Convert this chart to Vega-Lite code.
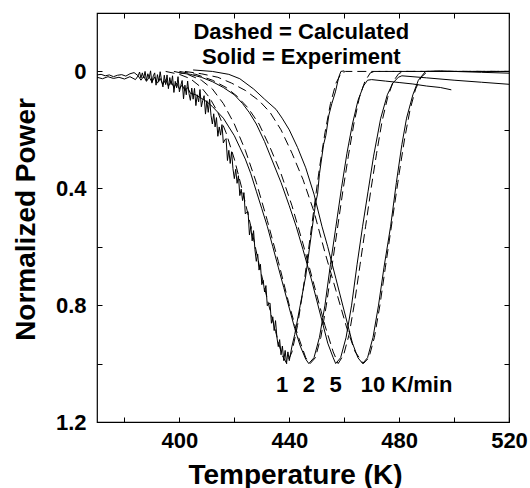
{
"$schema": "https://vega.github.io/schema/vega-lite/v6.json",
"width": 412, "height": 409,
"autosize": "none",
"padding": {"left": 97, "top": 13, "right": 21, "bottom": 66},
"background": "white",
"config": {"view": {"stroke": "black", "strokeWidth": 1.2}, "font": "Liberation Sans"},
"datasets": {
"exp": [
{"s":"1","t":370,"p":0.012},{"s":"1","t":371.5,"p":0.010},{"s":"1","t":373,"p":0.015},{"s":"1","t":374.5,"p":0.012},{"s":"1","t":376,"p":0.018},{"s":"1","t":377.5,"p":0.013},{"s":"1","t":379,"p":0.011},{"s":"1","t":380.5,"p":0.016},{"s":"1","t":382,"p":0.008},{"s":"1","t":383.5,"p":0.004},
{"s":"1","t":385,"p":0.015},{"s":"1","t":385.5,"p":0.002},{"s":"1","t":386,"p":0.023},{"s":"1","t":386.5,"p":0.005},{"s":"1","t":387,"p":0.022},{"s":"1","t":387.5,"p":0.0},{"s":"1","t":388,"p":0.031},{"s":"1","t":388.5,"p":0.008},{"s":"1","t":389,"p":0.022},{"s":"1","t":389.5,"p":-0.002},{"s":"1","t":390,"p":0.04},{"s":"1","t":390.5,"p":0.015},{"s":"1","t":391,"p":0.005},{"s":"1","t":391.5,"p":0.047},{"s":"1","t":392,"p":0.011},{"s":"1","t":392.5,"p":0.034},{"s":"1","t":393,"p":0.001},{"s":"1","t":393.5,"p":0.031},{"s":"1","t":394,"p":0.053},{"s":"1","t":394.5,"p":0.013},{"s":"1","t":395,"p":0.045},{"s":"1","t":395.5,"p":0.012},{"s":"1","t":396,"p":0.059},{"s":"1","t":396.5,"p":0.021},{"s":"1","t":397,"p":0.045},{"s":"1","t":397.5,"p":0.015},{"s":"1","t":398,"p":0.072},{"s":"1","t":398.5,"p":0.034},{"s":"1","t":399,"p":0.056},{"s":"1","t":399.5,"p":0.018},{"s":"1","t":400,"p":0.07},{"s":"1","t":400.5,"p":0.048},{"s":"1","t":401,"p":0.031},{"s":"1","t":401.5,"p":0.094},{"s":"1","t":402,"p":0.047},{"s":"1","t":402.5,"p":0.08},{"s":"1","t":403,"p":0.033},{"s":"1","t":403.5,"p":0.076},{"s":"1","t":404,"p":0.099},{"s":"1","t":404.5,"p":0.057},{"s":"1","t":405,"p":0.095},{"s":"1","t":405.5,"p":0.058},{"s":"1","t":406,"p":0.117},{"s":"1","t":406.5,"p":0.08},{"s":"1","t":407,"p":0.104},{"s":"1","t":407.5,"p":0.062},{"s":"1","t":408,"p":0.121},{"s":"1","t":408.5,"p":0.099},{"s":"1","t":409,"p":0.083},{"s":"1","t":409.5,"p":0.146},{"s":"1","t":410,"p":0.10},{"s":"1","t":410.5,"p":0.14},{"s":"1","t":411,"p":0.095},{"s":"1","t":411.5,"p":0.15},{"s":"1","t":412,"p":0.18},{"s":"1","t":412.5,"p":0.145},{"s":"1","t":413,"p":0.19},{"s":"1","t":413.5,"p":0.158},{"s":"1","t":414,"p":0.222},{"s":"1","t":414.5,"p":0.19},{"s":"1","t":415,"p":0.218},{"s":"1","t":415.5,"p":0.182},{"s":"1","t":416,"p":0.245},{"s":"1","t":416.5,"p":0.235},{"s":"1","t":417,"p":0.23},{"s":"1","t":417.5,"p":0.305},{"s":"1","t":418,"p":0.27},{"s":"1","t":418.5,"p":0.315},{"s":"1","t":419,"p":0.275},{"s":"1","t":419.5,"p":0.333},{"s":"1","t":420,"p":0.367},{"s":"1","t":420.5,"p":0.335},{"s":"1","t":421,"p":0.383},{"s":"1","t":421.5,"p":0.357},{"s":"1","t":422,"p":0.425},{"s":"1","t":422.5,"p":0.403},{"s":"1","t":423,"p":0.442},{"s":"1","t":423.5,"p":0.415},{"s":"1","t":424,"p":0.488},{"s":"1","t":424.5,"p":0.482},{"s":"1","t":425,"p":0.48},{"s":"1","t":425.5,"p":0.56},{"s":"1","t":426,"p":0.53},{"s":"1","t":426.5,"p":0.58},{"s":"1","t":427,"p":0.545},{"s":"1","t":427.5,"p":0.61},{"s":"1","t":428,"p":0.65},{"s":"1","t":428.5,"p":0.625},{"s":"1","t":429,"p":0.68},{"s":"1","t":429.5,"p":0.66},{"s":"1","t":430,"p":0.73},{"s":"1","t":430.5,"p":0.715},{"s":"1","t":431,"p":0.755},{"s":"1","t":431.5,"p":0.733},{"s":"1","t":432,"p":0.802},{"s":"1","t":432.5,"p":0.795},{"s":"1","t":433,"p":0.793},{"s":"1","t":433.5,"p":0.862},{"s":"1","t":434,"p":0.84},{"s":"1","t":434.5,"p":0.887},{"s":"1","t":435,"p":0.853},{"s":"1","t":435.5,"p":0.91},{"s":"1","t":436,"p":0.942},{"s":"1","t":436.5,"p":0.918},{"s":"1","t":437,"p":0.97},{"s":"1","t":437.5,"p":0.94},{"s":"1","t":438,"p":0.99},{"s":"1","t":438.5,"p":0.955},{"s":"1","t":439,"p":1.0},{"s":"1","t":439.5,"p":0.96},{"s":"1","t":440,"p":0.99},{"s":"1","t":441,"p":0.94},{"s":"1","t":442,"p":0.90},{"s":"1","t":444,"p":0.80},{"s":"1","t":446,"p":0.70},{"s":"1","t":448,"p":0.56},{"s":"1","t":449.6,"p":0.45},{"s":"1","t":450.3,"p":0.42},{"s":"1","t":451,"p":0.35},{"s":"1","t":452.5,"p":0.25},{"s":"1","t":453.3,"p":0.22},{"s":"1","t":454.4,"p":0.15},{"s":"1","t":455.5,"p":0.11},{"s":"1","t":456.8,"p":0.07},{"s":"1","t":458,"p":0.02},{"s":"1","t":458.8,"p":0.0},{"s":"1","t":460,"p":-0.002},
{"s":"2","t":370,"p":0.02},{"s":"2","t":372,"p":0.025},{"s":"2","t":374,"p":0.018},{"s":"2","t":376,"p":0.024},{"s":"2","t":378,"p":0.02},{"s":"2","t":380,"p":0.026},{"s":"2","t":382,"p":0.018},{"s":"2","t":384,"p":0.028},{"s":"2","t":385,"p":0.015},{"s":"2","t":386,"p":0.03},{"s":"2","t":387,"p":0.017},{"s":"2","t":388,"p":0.034},{"s":"2","t":389,"p":0.02},{"s":"2","t":390,"p":0.036},{"s":"2","t":391,"p":0.019},{"s":"2","t":392,"p":0.04},{"s":"2","t":393,"p":0.024},{"s":"2","t":394,"p":0.045},{"s":"2","t":395,"p":0.028},{"s":"2","t":396,"p":0.05},{"s":"2","t":397,"p":0.034},{"s":"2","t":398,"p":0.055},{"s":"2","t":399,"p":0.04},{"s":"2","t":400,"p":0.06},{"s":"2","t":401,"p":0.046},{"s":"2","t":402,"p":0.066},{"s":"2","t":403,"p":0.055},{"s":"2","t":404,"p":0.075},{"s":"2","t":406,"p":0.08},{"s":"2","t":408,"p":0.092},{"s":"2","t":410,"p":0.104},{"s":"2","t":412,"p":0.12},{"s":"2","t":414,"p":0.14},{"s":"2","t":416,"p":0.16},{"s":"2","t":418,"p":0.19},{"s":"2","t":420,"p":0.22},{"s":"2","t":422,"p":0.26},{"s":"2","t":424,"p":0.30},{"s":"2","t":426,"p":0.35},{"s":"2","t":428,"p":0.41},{"s":"2","t":430,"p":0.47},{"s":"2","t":432,"p":0.53},{"s":"2","t":434,"p":0.60},{"s":"2","t":436,"p":0.67},{"s":"2","t":438,"p":0.74},{"s":"2","t":440,"p":0.81},{"s":"2","t":442,"p":0.88},{"s":"2","t":444,"p":0.94},{"s":"2","t":446,"p":0.985},{"s":"2","t":447.1,"p":1.0},{"s":"2","t":449,"p":0.98},{"s":"2","t":451,"p":0.91},{"s":"2","t":453,"p":0.80},{"s":"2","t":455,"p":0.66},{"s":"2","t":457,"p":0.53},{"s":"2","t":459,"p":0.40},{"s":"2","t":461,"p":0.28},{"s":"2","t":463,"p":0.18},{"s":"2","t":465,"p":0.10},{"s":"2","t":467,"p":0.05},{"s":"2","t":468.5,"p":0.03},{"s":"2","t":470,"p":0.028},{"s":"2","t":475,"p":0.033},{"s":"2","t":480,"p":0.038},{"s":"2","t":485,"p":0.043},{"s":"2","t":490,"p":0.05},{"s":"2","t":495,"p":0.055},{"s":"2","t":499,"p":0.063},
{"s":"5","t":400,"p":0.005},{"s":"5","t":404,"p":0.01},{"s":"5","t":408,"p":0.02},{"s":"5","t":412,"p":0.035},{"s":"5","t":416,"p":0.055},{"s":"5","t":420,"p":0.08},{"s":"5","t":423,"p":0.11},{"s":"5","t":425.4,"p":0.14},{"s":"5","t":428,"p":0.18},{"s":"5","t":431,"p":0.24},{"s":"5","t":434,"p":0.31},{"s":"5","t":437,"p":0.38},{"s":"5","t":440,"p":0.46},{"s":"5","t":442.5,"p":0.53},{"s":"5","t":445,"p":0.61},{"s":"5","t":448,"p":0.71},{"s":"5","t":451,"p":0.82},{"s":"5","t":454,"p":0.93},{"s":"5","t":456,"p":0.98},{"s":"5","t":456.9,"p":1.0},{"s":"5","t":458.7,"p":0.98},{"s":"5","t":460.7,"p":0.91},{"s":"5","t":462.7,"p":0.80},{"s":"5","t":464.7,"p":0.66},{"s":"5","t":466.7,"p":0.53},{"s":"5","t":468.7,"p":0.41},{"s":"5","t":470.7,"p":0.29},{"s":"5","t":473.3,"p":0.16},{"s":"5","t":475.7,"p":0.08},{"s":"5","t":477.7,"p":0.04},{"s":"5","t":479.7,"p":0.02},{"s":"5","t":481,"p":0.015},{"s":"5","t":490,"p":0.022},{"s":"5","t":500,"p":0.03},{"s":"5","t":510,"p":0.037},{"s":"5","t":520,"p":0.044},
{"s":"10","t":405,"p":-0.005},{"s":"10","t":412,"p":0.0},{"s":"10","t":418,"p":0.01},{"s":"10","t":422,"p":0.025},{"s":"10","t":427,"p":0.06},{"s":"10","t":431,"p":0.095},{"s":"10","t":435.2,"p":0.13},{"s":"10","t":437.4,"p":0.16},{"s":"10","t":440,"p":0.20},{"s":"10","t":443,"p":0.26},{"s":"10","t":446,"p":0.33},{"s":"10","t":449,"p":0.42},{"s":"10","t":451.9,"p":0.53},{"s":"10","t":454,"p":0.60},{"s":"10","t":457,"p":0.71},{"s":"10","t":460,"p":0.82},{"s":"10","t":463,"p":0.93},{"s":"10","t":465,"p":0.98},{"s":"10","t":466.7,"p":1.0},{"s":"10","t":468.5,"p":0.98},{"s":"10","t":470.5,"p":0.91},{"s":"10","t":472.5,"p":0.80},{"s":"10","t":474.5,"p":0.67},{"s":"10","t":476.9,"p":0.53},{"s":"10","t":479,"p":0.38},{"s":"10","t":481,"p":0.25},{"s":"10","t":482.7,"p":0.16},{"s":"10","t":485,"p":0.08},{"s":"10","t":487,"p":0.03},{"s":"10","t":489.6,"p":0.0},{"s":"10","t":495,"p":-0.002},{"s":"10","t":500,"p":0.0},{"s":"10","t":510,"p":0.003},{"s":"10","t":520,"p":0.006}
],
"calc": [
{"s":"1","t":395,"p":0.0},{"s":"1","t":400,"p":0.01},{"s":"1","t":404,"p":0.025},{"s":"1","t":408,"p":0.055},{"s":"1","t":411,"p":0.09},{"s":"1","t":414,"p":0.14},{"s":"1","t":417,"p":0.21},{"s":"1","t":420,"p":0.30},{"s":"1","t":423,"p":0.41},{"s":"1","t":426,"p":0.53},{"s":"1","t":429,"p":0.66},{"s":"1","t":432,"p":0.78},{"s":"1","t":435,"p":0.89},{"s":"1","t":437.3,"p":0.97},{"s":"1","t":439.1,"p":1.0},{"s":"1","t":441,"p":0.96},{"s":"1","t":443,"p":0.87},{"s":"1","t":445,"p":0.75},{"s":"1","t":447,"p":0.61},{"s":"1","t":449,"p":0.47},{"s":"1","t":451,"p":0.33},{"s":"1","t":453,"p":0.21},{"s":"1","t":455,"p":0.11},{"s":"1","t":457,"p":0.04},{"s":"1","t":459,"p":0.005},{"s":"1","t":460.5,"p":0.0},{"s":"1","t":520,"p":0.0},
{"s":"2","t":398,"p":0.0},{"s":"2","t":403,"p":0.01},{"s":"2","t":408,"p":0.03},{"s":"2","t":412,"p":0.06},{"s":"2","t":416,"p":0.11},{"s":"2","t":420,"p":0.18},{"s":"2","t":424,"p":0.27},{"s":"2","t":428,"p":0.38},{"s":"2","t":432,"p":0.51},{"s":"2","t":436,"p":0.65},{"s":"2","t":440,"p":0.80},{"s":"2","t":443,"p":0.90},{"s":"2","t":446,"p":0.98},{"s":"2","t":447.6,"p":1.0},{"s":"2","t":449.5,"p":0.98},{"s":"2","t":451.5,"p":0.91},{"s":"2","t":453.5,"p":0.80},{"s":"2","t":455.5,"p":0.67},{"s":"2","t":457.5,"p":0.54},{"s":"2","t":459.5,"p":0.41},{"s":"2","t":461.5,"p":0.29},{"s":"2","t":463.5,"p":0.18},{"s":"2","t":465.5,"p":0.09},{"s":"2","t":467.5,"p":0.035},{"s":"2","t":469.5,"p":0.005},{"s":"2","t":471,"p":0.0},{"s":"2","t":520,"p":0.0},
{"s":"5","t":400,"p":0.0},{"s":"5","t":406,"p":0.01},{"s":"5","t":412,"p":0.03},{"s":"5","t":417,"p":0.055},{"s":"5","t":421,"p":0.085},{"s":"5","t":425,"p":0.125},{"s":"5","t":429,"p":0.18},{"s":"5","t":433,"p":0.26},{"s":"5","t":437,"p":0.35},{"s":"5","t":441,"p":0.46},{"s":"5","t":445,"p":0.59},{"s":"5","t":449,"p":0.73},{"s":"5","t":453,"p":0.87},{"s":"5","t":456,"p":0.96},{"s":"5","t":457.8,"p":1.0},{"s":"5","t":459.8,"p":0.97},{"s":"5","t":461.8,"p":0.90},{"s":"5","t":463.8,"p":0.79},{"s":"5","t":465.8,"p":0.66},{"s":"5","t":467.8,"p":0.53},{"s":"5","t":469.8,"p":0.40},{"s":"5","t":471.8,"p":0.28},{"s":"5","t":473.8,"p":0.17},{"s":"5","t":475.8,"p":0.09},{"s":"5","t":477.8,"p":0.035},{"s":"5","t":479.8,"p":0.008},{"s":"5","t":481.5,"p":0.0},{"s":"5","t":520,"p":0.0},
{"s":"10","t":402,"p":0.0},{"s":"10","t":408,"p":0.008},{"s":"10","t":414,"p":0.02},{"s":"10","t":419,"p":0.04},{"s":"10","t":424,"p":0.065},{"s":"10","t":429,"p":0.10},{"s":"10","t":433,"p":0.14},{"s":"10","t":437,"p":0.20},{"s":"10","t":441,"p":0.28},{"s":"10","t":445,"p":0.37},{"s":"10","t":449,"p":0.48},{"s":"10","t":453,"p":0.62},{"s":"10","t":457,"p":0.75},{"s":"10","t":461,"p":0.88},{"s":"10","t":464,"p":0.96},{"s":"10","t":467,"p":1.0},{"s":"10","t":469,"p":0.98},{"s":"10","t":471,"p":0.91},{"s":"10","t":473,"p":0.80},{"s":"10","t":475,"p":0.67},{"s":"10","t":477.5,"p":0.51},{"s":"10","t":480,"p":0.35},{"s":"10","t":482,"p":0.23},{"s":"10","t":484,"p":0.13},{"s":"10","t":486,"p":0.06},{"s":"10","t":488,"p":0.02},{"s":"10","t":490,"p":0.003},{"s":"10","t":491,"p":0.0},{"s":"10","t":520,"p":0.0}
],
"notes": [
{"t":444.4,"p":-0.111,"label":"Dashed = Calculated"},
{"t":444.4,"p":-0.025,"label":"Solid = Experiment"},
{"t":437.4,"p":1.097,"label":"1"},
{"t":447.1,"p":1.097,"label":"2"},
{"t":456.9,"p":1.097,"label":"5"},
{"t":482.7,"p":1.097,"label":"10 K/min"}
]
},
"resolve": {"axis": {"x": "independent", "y": "independent"}},
"layer": [
{"data": {"name": "exp"},
 "mark": {"type": "line", "color": "black", "strokeWidth": 1, "clip": true},
 "encoding": {
  "x": {"field": "t", "type": "quantitative", "scale": {"domain": [370, 520], "nice": false, "zero": false},
   "axis": {"orient": "bottom", "values": [380,400,420,440,460,480,500,520], "labelExpr": "datum.value % 40 == 0 ? format(datum.value, 'd') : ''", "domain": false, "grid": false, "tickSize": -5, "tickColor": "black", "tickWidth": 1, "labelFont": "Liberation Sans", "labelFontWeight": "bold", "labelFontSize": 22, "labelColor": "black", "labelPadding": 13, "labelFlush": false, "labelOverlap": false, "title": "Temperature (K)", "titleFont": "Liberation Sans", "titleFontWeight": "bold", "titleFontSize": 28, "titleColor": "black", "titleX": 198, "titleY": 61, "titleBaseline": "alphabetic"}},
  "y": {"field": "p", "type": "quantitative", "scale": {"domain": [-0.2, 1.2], "reverse": true, "nice": false, "zero": false},
   "axis": {"orient": "left", "values": [0,0.2,0.4,0.6,0.8,1.0,1.2], "labelExpr": "datum.value == 0 ? '0' : (abs((datum.value*10) % 4) < 0.01 ? format(datum.value, '.1f') : '')", "domain": false, "grid": false, "tickSize": -5, "tickColor": "black", "tickWidth": 1, "labelFont": "Liberation Sans", "labelFontWeight": "bold", "labelFontSize": 22, "labelColor": "black", "labelPadding": 16, "labelOverlap": false, "labelFlush": false, "title": "Normalized Power", "titleFont": "Liberation Sans", "titleFontWeight": "bold", "titleFontSize": 28, "titleColor": "black", "titleX": -63, "titleY": 206, "titleBaseline": "alphabetic", "titleAlign": "center", "titleAngle": -90}},
  "detail": {"field": "s"}
 }},
{"data": {"name": "calc"},
 "mark": {"type": "line", "color": "black", "strokeWidth": 1, "strokeDash": [9, 5], "clip": true},
 "encoding": {
  "x": {"field": "t", "type": "quantitative", "axis": null},
  "y": {"field": "p", "type": "quantitative", "axis": null},
  "detail": {"field": "s"}
 }},
{"data": {"name": "notes"},
 "mark": {"type": "text", "font": "Liberation Sans", "fontWeight": "bold", "fontSize": 22, "align": "center", "baseline": "alphabetic", "color": "black"},
 "encoding": {
  "x": {"field": "t", "type": "quantitative", "axis": null},
  "y": {"field": "p", "type": "quantitative", "axis": null},
  "text": {"field": "label"}
 }},
{"data": {"name": "calc"},
 "mark": {"type": "point", "opacity": 0},
 "encoding": {
  "x": {"field": "t", "type": "quantitative", "axis": {"orient": "top", "values": [380,400,420,440,460,480,500,520], "labels": false, "domain": false, "grid": false, "tickSize": -5, "tickColor": "black", "title": null}},
  "y": {"field": "p", "type": "quantitative", "axis": {"orient": "right", "values": [0,0.2,0.4,0.6,0.8,1.0,1.2], "labels": false, "domain": false, "grid": false, "tickSize": -5, "tickColor": "black", "title": null}}
 }}
]
}
